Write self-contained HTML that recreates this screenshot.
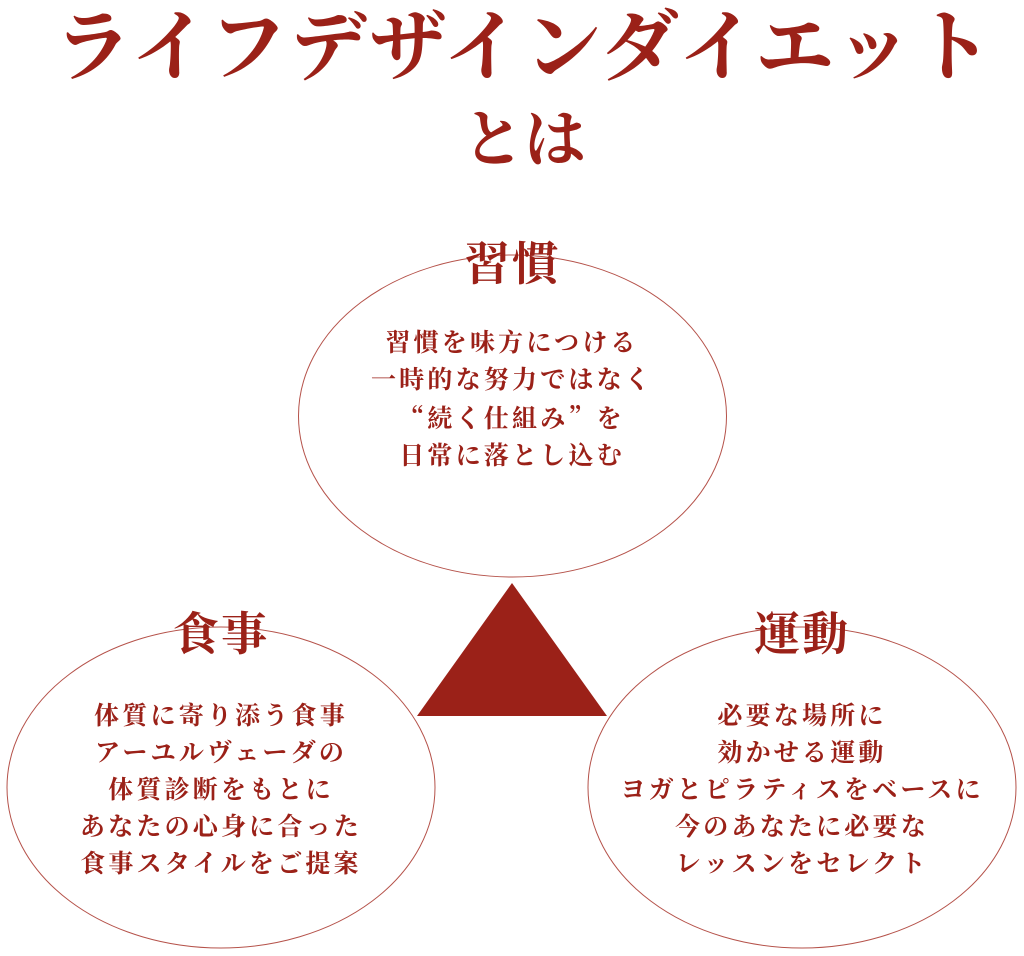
<!DOCTYPE html>
<html><head><meta charset="utf-8"><style>
html,body{margin:0;padding:0;background:#fff;}
body{width:1024px;height:956px;position:relative;overflow:hidden;font-family:"Liberation Serif","Noto Serif CJK SC","Noto Serif CJK JP",serif;color:#9b2118;}
.t{position:absolute;left:12px;width:1024px;text-align:center;font-weight:bold;white-space:nowrap;}
.b{position:absolute;text-align:center;font-size:25px;line-height:37px;letter-spacing:3.2px;white-space:nowrap;font-weight:bold;}
.h{position:absolute;text-align:center;font-size:46px;font-weight:bold;line-height:50px;white-space:nowrap;letter-spacing:2px;}
.q{font-family:"Noto Serif CJK SC","Noto Sans CJK SC",serif;}
</style></head><body>
<svg width="1024" height="956" style="position:absolute;left:0;top:0">
<ellipse cx="512.5" cy="416" rx="214" ry="161" fill="none" stroke="#b5524a" stroke-width="1"/>
<ellipse cx="221" cy="787.5" rx="214" ry="160.5" fill="none" stroke="#b5524a" stroke-width="1"/>
<ellipse cx="802" cy="787.5" rx="214" ry="160.5" fill="none" stroke="#b5524a" stroke-width="1"/>
<polygon points="512,583 417,716 607,716" fill="#9b2118"/>
</svg>
<div class="t" style="top:2px;font-size:78px;line-height:92px;letter-spacing:2px;">ライフデザインダイエット</div>
<div class="t" style="top:103px;font-size:62px;line-height:76px;">とは</div>
<div class="h" style="left:312px;width:400px;top:240px;">習慣</div>
<div class="h" style="left:21px;width:400px;top:610px;">食事</div>
<div class="h" style="left:602px;width:400px;top:610px;">運動</div>
<div class="b" style="left:312px;width:400px;top:325px;">習慣を味方につける<br>一時的な努力ではなく<br><span class="q">“</span>続く仕組み<span class="q">”</span>を<br>日常に落とし込む</div>
<div class="b" style="left:21px;width:400px;top:698px;">体質に寄り添う食事<br>アーユルヴェーダの<br>体質診断をもとに<br>あなたの心身に合った<br>食事スタイルをご提案</div>
<div class="b" style="left:602px;width:400px;top:698px;">必要な場所に<br>効かせる運動<br>ヨガとピラティスをベースに<br>今のあなたに必要な<br>レッスンをセレクト</div>
</body></html>
